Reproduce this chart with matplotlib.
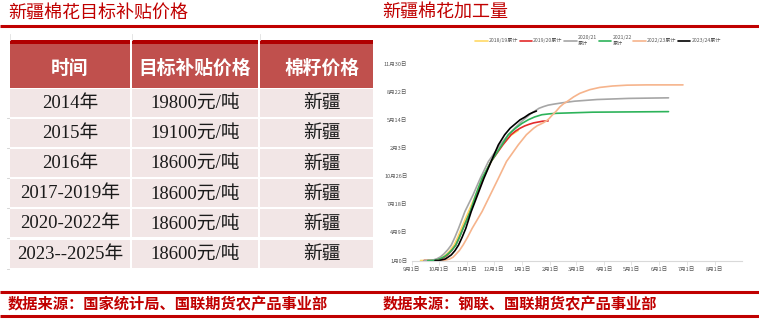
import matplotlib
matplotlib.use('Agg')
import matplotlib.pyplot as plt
import pandas as pd
from matplotlib.patches import Rectangle

plt.rcParams['font.family'] = ['Noto Sans CJK SC', 'DejaVu Sans']

# ---------------- text / data ----------------
left_title = '新疆棉花目标补贴价格'
right_title = '新疆棉花加工量'
left_source = '数据来源：国家统计局、国联期货农产品事业部'
right_source = '数据来源：钢联、国联期货农产品事业部'

table_header = ['时间', '目标补贴价格', '棉籽价格']
table_years = ['2014年', '2015年', '2016年', '2017-2019年', '2020-2022年', '2023--2025年']
table_prices = [19800, 19100, 18600, 18600, 18600, 18600]
table_region = ['新疆', '新疆', '新疆', '新疆', '新疆', '新疆']

season_labels = ['2018/19累计', '2019/20累计', '2020/21\n累计', '2021/22\n累计',
                 '2022/23累计', '2023/24累计']
season_colors = ['#FFD966', '#E32B2B', '#A6A6A6', '#2DB35A', '#F6B48C', '#000000']

# days counted from 9月1日, cumulative processed volume
days_1819 = [10, 20, 26, 30, 34, 38, 42, 47, 51, 55, 63, 71, 78, 88, 100, 110, 118]
vals_1819 = [0, 0, 2, 5, 11, 20, 33, 55, 82, 114, 174, 233, 292, 352, 411, 445, 462]

days_1920 = [14, 22, 28, 32, 36, 40, 44, 49, 53, 57, 65, 72, 79, 88, 101, 110, 115,
             120, 125, 130, 135, 140, 145, 151]
vals_1920 = [0, 0, 2, 5, 11, 20, 34, 55, 83, 114, 174, 233, 292, 352, 411, 447, 460,
             470, 478, 484, 489, 492, 495, 496]

days_2021 = [14, 20, 24, 28, 32, 36, 40, 44, 48, 52, 59, 68, 76, 85, 98, 107, 114, 122,
             132, 141, 146, 151, 158, 166, 180, 205, 240, 284]
vals_2021 = [0, 0, 2, 6, 13, 24, 38, 55, 83, 114, 174, 233, 292, 352, 411, 447, 470, 495,
             522, 541, 547, 552, 556, 560, 566, 572, 576, 578]

days_2122 = [18, 25, 29, 33, 37, 41, 45, 49, 53, 57, 65, 71, 78, 88, 100, 107, 115, 122,
             129, 136, 144, 152, 160, 180, 200, 284]
vals_2122 = [0, 0, 3, 8, 15, 25, 38, 55, 83, 114, 174, 233, 292, 352, 411, 447, 470, 487,
             500, 510, 518, 521, 523, 525, 527, 529]

days_2223 = [28, 34, 38, 42, 46, 49, 53, 57, 62, 67, 78, 87, 96, 105, 118, 127, 135, 139,
             143, 146, 149, 152, 155, 160, 164, 168, 172, 179, 186, 197, 208, 222, 238,
             260, 300]
vals_2223 = [0, 0, 2, 5, 12, 22, 36, 55, 83, 114, 174, 233, 292, 352, 411, 447, 470, 479,
             485, 490, 496, 504, 515, 531, 546, 557, 565, 581, 594, 607, 615, 620, 623,
             624, 624]

days_2324 = [26, 30, 33, 37, 40, 44, 48, 52, 56, 60, 66, 73, 80, 88, 96, 103, 109, 120,
             125, 130, 134, 138]
vals_2324 = [0, 0, 2, 5, 11, 20, 35, 55, 83, 114, 174, 233, 292, 352, 411, 447, 470, 500,
             509, 520, 526, 531]

season_days = [days_1819, days_1920, days_2021, days_2122, days_2223, days_2324]
season_vals = [vals_1819, vals_1920, vals_2021, vals_2122, vals_2223, vals_2324]

ytick_values = [0, 100, 200, 300, 400, 500, 600, 700]
ytick_labels = ['1月0日', '4月9日', '7月18日', '10月26日', '2月3日', '5月14日', '8月22日', '11月30日']
season_start = '2023-09-01'

RED = '#C00000'

# ---------------- figure ----------------
W, H = 759, 322
fig = plt.figure(figsize=(W / 100, H / 100), dpi=100)
bg = fig.add_axes([0, 0, 1, 1])
bg.set_xlim(0, W)
bg.set_ylim(H, 0)
bg.axis('off')

# titles and rules
bg.text(8, 13, left_title, color=RED, fontsize=13, va='center', ha='left')
bg.text(382, 12, right_title, color=RED, fontsize=13, va='center', ha='left')
bg.plot([0, W], [26, 26], color=RED, lw=2.2, solid_capstyle='butt')
bg.plot([0, W], [292, 292], color=RED, lw=2.2, solid_capstyle='butt')
bg.plot([0, W], [316, 316], color=RED, lw=2.2, solid_capstyle='butt')
bg.text(8, 304, left_source, color=RED, fontsize=11, fontweight='bold', va='center', ha='left')
bg.text(383, 304, right_source, color=RED, fontsize=11, fontweight='bold', va='center', ha='left')

# ---------------- table ----------------
col_x = [(10, 130), (132, 258), (260, 373)]
col_text_x = [70, 195, 322]
header_top, header_bot = 40, 88
for (x0, x1), tx, h in zip(col_x, col_text_x, table_header):
    bg.add_patch(Rectangle((x0, header_top), x1 - x0, header_bot - header_top,
                           facecolor='#C0504D', edgecolor='none'))
    bg.add_patch(Rectangle((x0, header_top), x1 - x0, 3.5,
                           facecolor='#B00000', edgecolor='none'))
    bg.text(tx, 68, h, color='white', fontsize=13.5, fontweight='bold',
            ha='center', va='center')
    bg.plot([x0, x0], [34, 40], color='#E0E0E0', lw=0.6)

row_top0, row_pitch, row_h = 89, 30.1, 28
cell_font = ['Liberation Serif', 'Noto Sans CJK SC']
for i, (yr, pr, rg) in enumerate(zip(table_years, table_prices, table_region)):
    top = row_top0 + i * row_pitch
    for (x0, x1) in col_x:
        bg.add_patch(Rectangle((x0, top), x1 - x0, row_h,
                               facecolor='#F2E6E6', edgecolor='none'))
    cy = top + row_h / 2 + 0.5
    bg.text(col_text_x[0], cy, yr, color='#1A1A1A', fontsize=13.5, family=cell_font,
            ha='center', va='center')
    bg.text(col_text_x[1], cy, f'{pr}元/吨', color='#1A1A1A', fontsize=13.5, family=cell_font,
            ha='center', va='center')
    bg.text(col_text_x[2], cy, rg, color='#1A1A1A', fontsize=13.5, family=cell_font,
            ha='center', va='center')
    bg.plot([7, 9], [top + row_h + 1, top + row_h + 1], color='#D0D0D0', lw=0.6)

# ---------------- line chart ----------------
ax_left, ax_right = 411.5, 741.8
ax_top, ax_bot = 63.5, 260.5
ax = fig.add_axes([ax_left / W, 1 - ax_bot / H, (ax_right - ax_left) / W, (ax_bot - ax_top) / H])
start = pd.Timestamp(season_start)
for d, v, c, lab in zip(season_days, season_vals, season_colors, season_labels):
    dates = [start + pd.Timedelta(days=k) for k in d]
    ax.plot(dates, v, color=c, lw=1.2, label=lab, solid_capstyle='round',
            solid_joinstyle='round')

ax.set_xlim(start, start + pd.Timedelta(days=365))
ax.set_ylim(0, 700)
months = pd.date_range(start, periods=12, freq='MS')
ax.set_xticks(months)
ax.set_xticklabels([f'{m.month}月1日' for m in months])
ax.set_yticks(ytick_values)
ax.set_yticklabels(ytick_labels)
ax.tick_params(axis='x', length=3, width=0.5, color='#D9D9D9', pad=2,
               labelsize=4, labelcolor='#595959')
ax.tick_params(axis='y', length=0, pad=3, labelsize=4, labelcolor='#595959')
for s in ['top', 'right', 'left']:
    ax.spines[s].set_visible(False)
ax.spines['bottom'].set_color('#D9D9D9')
ax.spines['bottom'].set_linewidth(0.8)
ax.patch.set_alpha(0)

leg = ax.legend(loc='upper center', bbox_to_anchor=(598 / W, 1 - 35 / H),
                bbox_transform=fig.transFigure, ncol=6, frameon=False,
                fontsize=3.7, handlelength=2.4, handletextpad=0.2, columnspacing=0.35,
                borderaxespad=0, borderpad=0)
for t in leg.get_texts():
    t.set_color('#595959')

fig.savefig('out.png', dpi=100)
